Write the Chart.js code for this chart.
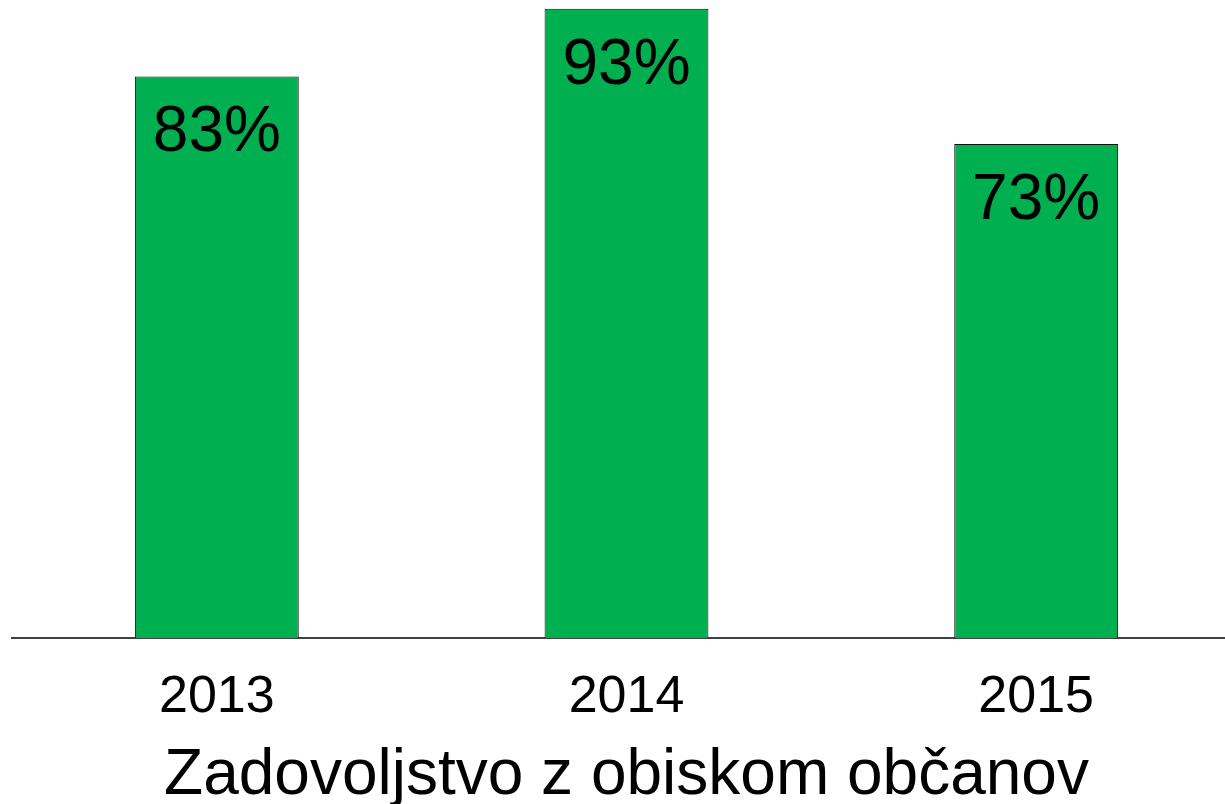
<!DOCTYPE html>
<html>
<head>
<meta charset="utf-8">
<script src="https://cdn.jsdelivr.net/npm/chart.js@4/dist/chart.umd.min.js"></script>
<style>
    html, body { margin: 0; padding: 0; background: #fff; overflow: hidden; }
    /* graf je nekoliko širši od okna, desni rob je odrezan kot v izvirniku */
    #wrap { width: 1241px; height: 804px; }
</style>
</head>
<body>
<div id="wrap"><canvas id="satisfactionChart"></canvas></div>
<script>
const years = ['2013', '2014', '2015'];
const satisfaction = [83, 93, 73];
const chartTitle = 'Zadovoljstvo z obiskom občanov';

const FONT = '"Liberation Sans", Arial, sans-serif';

// napisi z vrednostmi znotraj stolpcev
const valueLabels = {
    id: 'valueLabels',
    afterDatasetsDraw(chart) {
        const ctx = chart.ctx;
        const meta = chart.getDatasetMeta(0);
        ctx.save();
        ctx.font = `64px ${FONT}`;
        ctx.fillStyle = '#000';
        ctx.textAlign = 'center';
        ctx.textBaseline = 'alphabetic';
        meta.data.forEach((bar, i) => {
            ctx.fillText(`${satisfaction[i]}%`, bar.x, bar.y + 75);
        });
        ctx.restore();
    }
};

new Chart(document.getElementById('satisfactionChart'), {
    type: 'bar',
    data: {
        labels: years,
        datasets: [{
            data: satisfaction,
            backgroundColor: '#00B050',
            borderColor: '#111',
            borderWidth: 1,
            barPercentage: 0.4,
            categoryPercentage: 1.0
        }]
    },
    options: {
        responsive: true,
        maintainAspectRatio: false,
        animation: false,
        layout: {
            padding: { top: 2, left: 12, right: 0, bottom: 0 }
        },
        plugins: {
            legend: { display: false },
            tooltip: { enabled: false },
            title: {
                display: true,
                text: chartTitle,
                position: 'bottom',
                color: '#000',
                font: { family: FONT, size: 64, weight: 'normal', lineHeight: 0.5625 },
                padding: { top: 0, bottom: 10 }
            }
        },
        scales: {
            x: {
                grid: { display: false, drawTicks: false },
                border: { display: true, color: '#404040', width: 2 },
                ticks: {
                    color: '#000',
                    padding: 34,
                    font: { family: FONT, size: 52, lineHeight: 1 }
                }
            },
            y: {
                display: false,
                min: 0,
                max: 94
            }
        }
    },
    plugins: [valueLabels]
});
</script>
</body>
</html>
